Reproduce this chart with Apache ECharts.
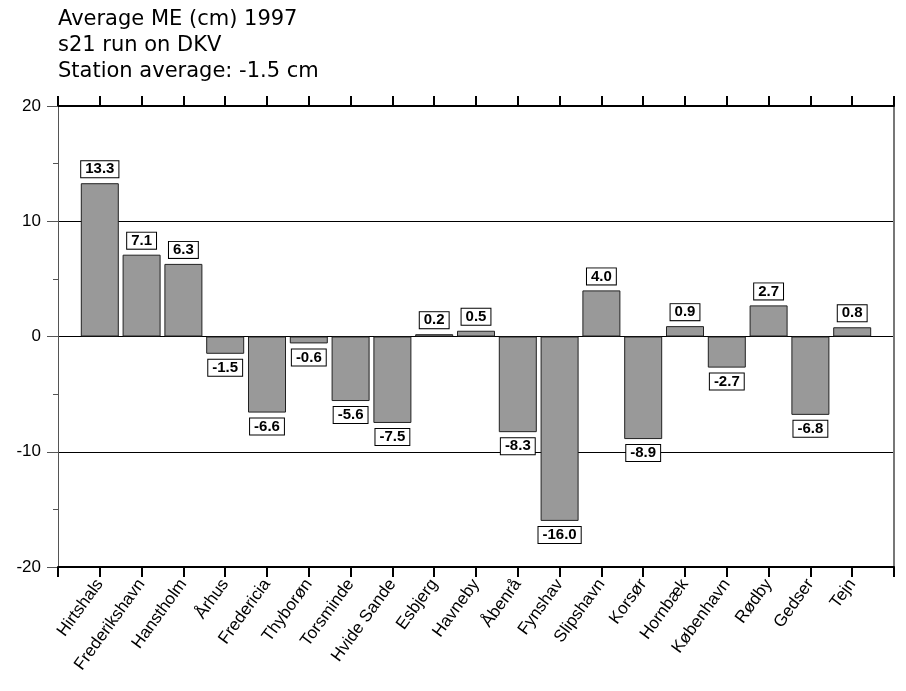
<!DOCTYPE html>
<html>
<head>
<meta charset="utf-8">
<script src="https://cdn.jsdelivr.net/npm/echarts@6/dist/echarts.min.js"></script>
<style>
  html, body { margin: 0; padding: 0; background: #fff; }
  #main { width: 906px; height: 691px; }
</style>
</head>
<body>
<div id="main"></div>
<script>
var stations = ['Hirtshals', 'Frederikshavn', 'Hanstholm', 'Århus', 'Fredericia', 'Thyborøn',
    'Torsminde', 'Hvide Sande', 'Esbjerg', 'Havneby', 'Åbenrå', 'Fynshav', 'Slipshavn',
    'Korsør', 'Hornbæk', 'København', 'Rødby', 'Gedser', 'Tejn']
var meValues = [13.3, 7.1, 6.3, -1.5, -6.6, -0.6, -5.6, -7.5, 0.2, 0.5, -8.3, -16.0, 4.0,
    -8.9, 0.9, -2.7, 2.7, -6.8, 0.8]
var titleLines = ['Average ME (cm) 1997', 's21 run on DKV', 'Station average: -1.5 cm']

var myChart = echarts.init(document.getElementById('main'))

// bars sit on the ticks 1..19, first and last tick are the plot edges
var barData = []
for (var i = 0; i < meValues.length; i++) {
    barData.push({
        value: [i + 1, meValues[i]],
        label: { position: meValues[i] >= 0 ? 'top' : 'bottom' }
    })
}

var option = {
    animation: false,
    textStyle: { fontFamily: 'Liberation Sans' },
    title: {
        text: titleLines.join('\n'),
        left: 58,
        top: 7,
        padding: 0,
        textStyle: {
            fontFamily: 'DejaVu Sans',
            fontWeight: 'normal',
            fontSize: 21,
            lineHeight: 26,
            color: '#000'
        }
    },
    grid: { left: 58, right: 12, top: 106, bottom: 124 },
    xAxis: [{
        type: 'value',
        position: 'bottom',
        min: 0,
        max: 20,
        interval: 1,
        axisLine: { onZero: false, lineStyle: { color: '#000', width: 2 } },
        axisTick: { inside: false, length: 10, lineStyle: { color: '#000', width: 2 } },
        splitLine: { show: false },
        axisLabel: {
            rotate: 54,
            fontSize: 17,
            color: '#000',
            margin: 14,
            formatter: function(v) { return stations[v - 1] || '' }
        }
    }, {
        type: 'value',
        position: 'top',
        min: 0,
        max: 20,
        interval: 1,
        axisLine: { onZero: false, lineStyle: { color: '#000', width: 2 } },
        axisTick: { inside: false, length: 10, lineStyle: { color: '#000', width: 2 } },
        splitLine: { show: false },
        axisLabel: { show: false }
    }],
    yAxis: [{
        type: 'value',
        position: 'left',
        min: -20,
        max: 20,
        interval: 10,
        axisLine: { show: true, onZero: false, lineStyle: { color: '#555', width: 1 } },
        axisTick: { show: true, inside: false, length: 11, lineStyle: { color: '#555' } },
        minorTick: { show: true, splitNumber: 2, length: 5, lineStyle: { color: '#555' } },
        splitLine: { show: true, lineStyle: { color: '#000', width: 1 } },
        axisLabel: { fontSize: 17, color: '#000', margin: 17 }
    }, {
        type: 'value',
        position: 'right',
        min: -20,
        max: 20,
        interval: 10,
        axisLine: { show: true, onZero: false, lineStyle: { color: '#777', width: 2 } },
        axisTick: { show: false },
        splitLine: { show: false },
        axisLabel: { show: false }
    }],
    series: [{
        name: 'ME',
        type: 'bar',
        xAxisIndex: 0,
        yAxisIndex: 0,
        barWidth: 38,
        data: barData,
        itemStyle: {
            color: '#999999',
            borderColor: '#222',
            borderWidth: 1
        },
        label: {
            show: true,
            distance: 6,
            fontSize: 15,
            lineHeight: 14,
            fontWeight: 'bold',
            color: '#000',
            backgroundColor: '#fff',
            borderColor: '#000',
            borderWidth: 1,
            padding: [1, 4, 1, 4],
            formatter: function(p) { return p.value[1].toFixed(1) }
        }
    }]
}

myChart.setOption(option)
</script>
</body>
</html>
